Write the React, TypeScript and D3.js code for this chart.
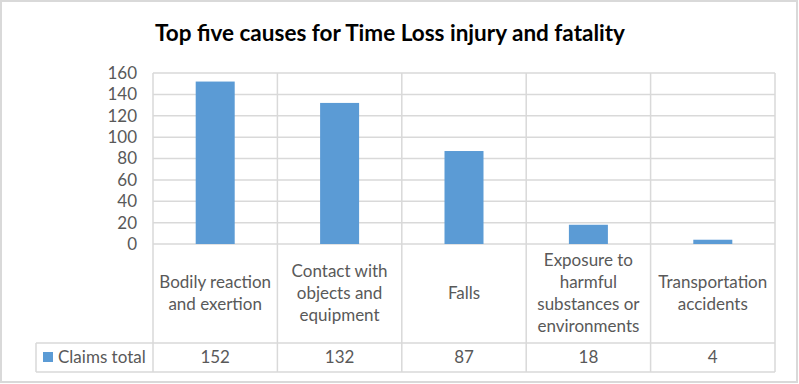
import React from 'react';
import * as d3 from 'd3';

const title = 'Top five causes for Time Loss injury and fatality';
const categories: string[][] = [
  ['Bodily reaction', 'and exertion'],
  ['Contact with', 'objects and', 'equipment'],
  ['Falls'],
  ['Exposure to', 'harmful', 'substances or', 'environments'],
  ['Transportation', 'accidents'],
];
const seriesName = 'Claims total';
const claims = [152, 132, 87, 18, 4];
const yTicks = [0, 20, 40, 60, 80, 100, 120, 140, 160];

const W = 799;
const H = 384;
const plot = { left: 153, right: 775, top: 73, bottom: 244 };
const catRowBottom = 343;
const dataRowBottom = 372;
const legendLeft = 36;
const grid = '#d9d9d9';
const textColor = '#595959';
const barColor = '#5b9bd5';
const font = 'Lato, "Open Sans", sans-serif';

const App: React.FC = () => {
  const x = d3.scaleBand<number>()
    .domain(d3.range(claims.length))
    .range([plot.left, plot.right]);
  const y = d3.scaleLinear().domain([0, 160]).range([plot.bottom, plot.top]);
  const barW = 39;
  const lineH = 22;
  const fs = 17;

  return (
    <svg width={W} height={H} style={{ position: 'absolute', left: 0, top: 0 }} fontFamily={font}>
      <rect x={1} y={1} width={W - 3} height={H - 3} fill="#fff" stroke={grid} strokeWidth={2} />
      <text x={390} y={41} textAnchor="middle" fontSize={22} fontWeight="bold" fill="#000"
        textLength={470} lengthAdjust="spacingAndGlyphs">{title}</text>

      {/* gridlines and y labels */}
      {yTicks.map((t) => (
        <g key={t}>
          <line x1={plot.left} x2={plot.right} y1={y(t)} y2={y(t)} stroke={grid} strokeWidth={1.5} />
          <text x={137} y={y(t)} dy="0.35em" textAnchor="end" fontSize={fs} fill={textColor}>{t}</text>
        </g>
      ))}

      {/* table verticals */}
      {d3.range(claims.length + 1).map((i) => {
        const xx = i < claims.length ? (x(i) as number) : plot.right;
        return <line key={i} x1={xx} x2={xx} y1={plot.top} y2={dataRowBottom} stroke={grid} strokeWidth={1.5} />;
      })}
      <line x1={legendLeft} x2={plot.right} y1={catRowBottom} y2={catRowBottom} stroke={grid} strokeWidth={1.5} />
      <line x1={legendLeft} x2={plot.right} y1={dataRowBottom} y2={dataRowBottom} stroke={grid} strokeWidth={1.5} />
      <line x1={legendLeft} x2={legendLeft} y1={catRowBottom} y2={dataRowBottom} stroke={grid} strokeWidth={1.5} />

      {/* bars */}
      {claims.map((v, i) => (
        <rect key={i}
          x={(x(i) as number) + x.bandwidth() / 2 - barW / 2}
          y={y(v)}
          width={barW}
          height={y(0) - y(v)}
          fill={barColor} />
      ))}

      {/* category labels */}
      {categories.map((lines, i) => {
        const cx = (x(i) as number) + x.bandwidth() / 2;
        const cy = (plot.bottom + catRowBottom) / 2;
        const start = cy - ((lines.length - 1) * lineH) / 2;
        return (
          <text key={i} textAnchor="middle" fontSize={fs} fill={textColor}>
            {lines.map((l, j) => (
              <tspan key={j} x={cx} y={start + j * lineH} dy="0.35em">{l}</tspan>
            ))}
          </text>
        );
      })}

      {/* data row */}
      <rect x={43} y={352} width={10} height={10} fill={barColor} />
      <text x={58} y={(catRowBottom + dataRowBottom) / 2} dy="0.35em" fontSize={fs} fill={textColor}>{seriesName}</text>
      {claims.map((v, i) => (
        <text key={i} x={(x(i) as number) + x.bandwidth() / 2} y={(catRowBottom + dataRowBottom) / 2} dy="0.35em"
          textAnchor="middle" fontSize={fs} fill={textColor}>{v}</text>
      ))}
    </svg>
  );
};

export default App;
